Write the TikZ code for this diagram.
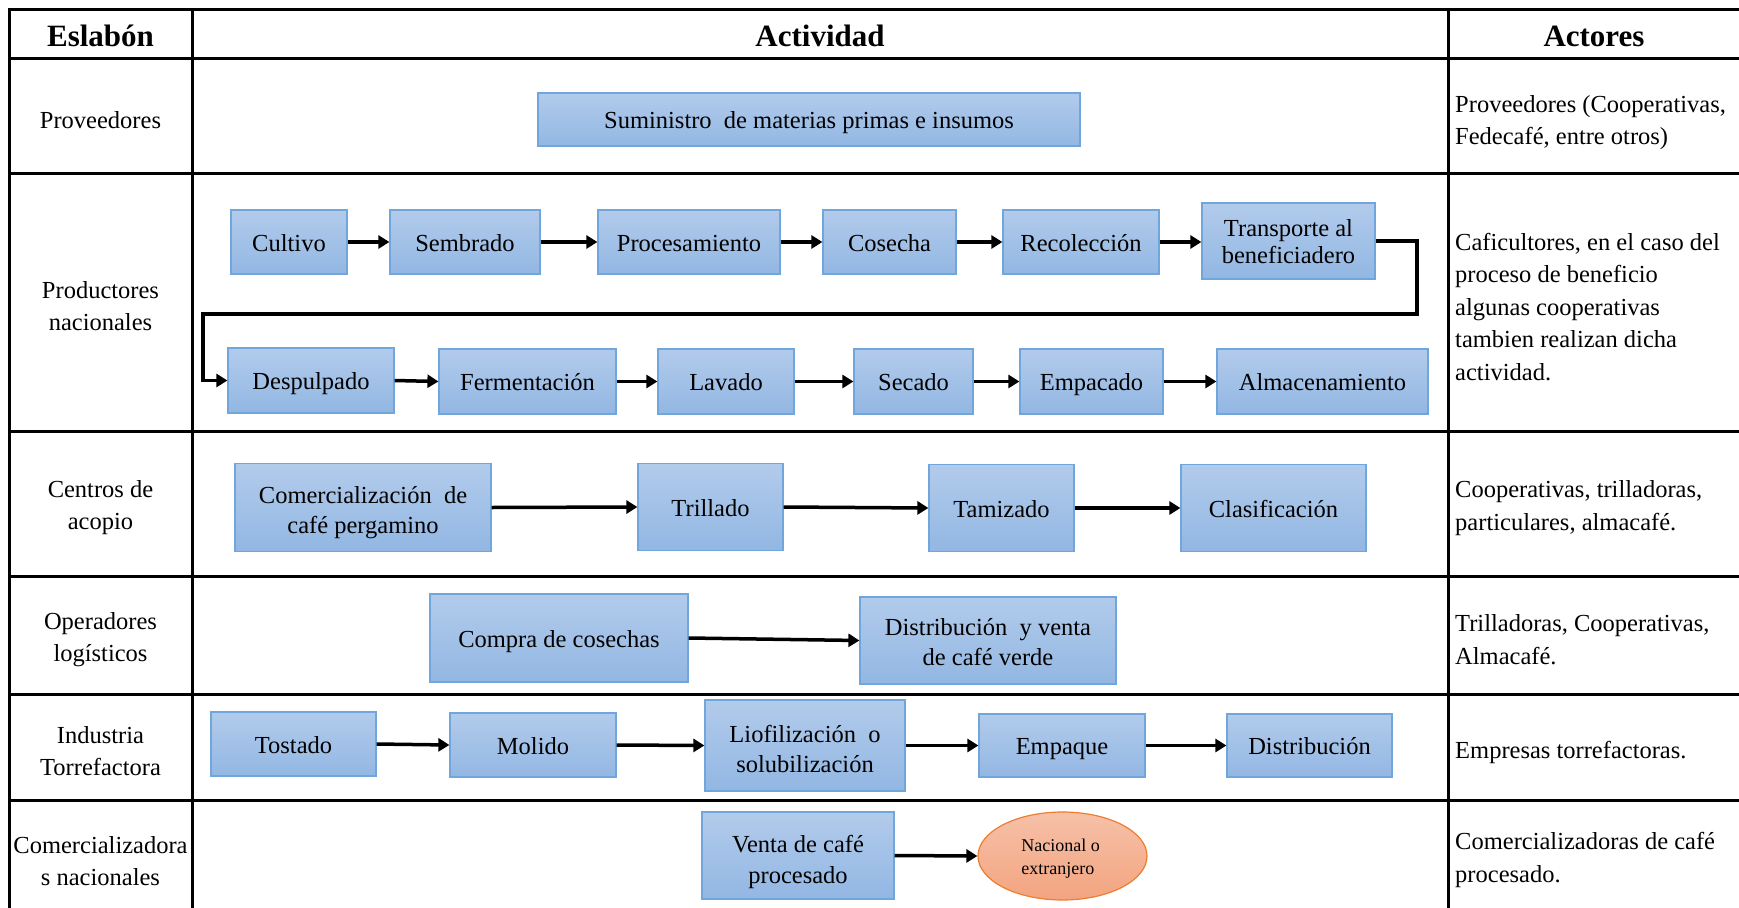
\documentclass[tikz,border=0pt]{standalone}
\usepackage{fontspec}
\setmainfont{Liberation Serif}
\usetikzlibrary{arrows.meta,shapes.geometric}

\definecolor{boxtop}{RGB}{178,203,235}
\definecolor{boxbot}{RGB}{146,183,227}
\definecolor{boxline}{RGB}{112,166,220}
\definecolor{elltop}{RGB}{246,193,168}
\definecolor{ellbot}{RGB}{243,164,128}
\definecolor{ellline}{RGB}{237,125,49}

\begin{document}
\begin{tikzpicture}[x=1pt,y=-1pt,
  rule/.style={line width=3pt, line cap=rect},
  headtext/.style={inner sep=0pt, font=\fontsize{31}{36}\selectfont\bfseries},
  celltext/.style={inner sep=0pt, align=center, font=\fontsize{24.5}{32}\selectfont},
  actortext/.style={inner sep=0pt, anchor=west, align=left, font=\fontsize{24.5}{32.5}\selectfont},
  actbox/.style={draw=boxline, line width=1.2pt, top color=boxtop, bottom color=boxbot,
    inner sep=0pt, align=center, font=\fontsize{24.5}{30}\selectfont},
  oneline/.style={text height=18pt, text depth=0pt},
  boxtext/.style={inner sep=0pt, align=center, font=\fontsize{24.5}{30}\selectfont},
  destino/.style={ellipse, draw=ellline, line width=1.2pt, top color=elltop, bottom color=ellbot,
    inner sep=0pt},
  destinotext/.style={inner sep=0pt, align=left, font=\fontsize{18}{23}\selectfont},
  arr/.style={line width=3.5pt, line join=miter, -{Triangle[length=11pt,width=13pt]}}]

\useasboundingbox (0,0) rectangle (1739,907);

% table rules
\draw[rule] (9,10) -- (1739,10);
\draw[rule] (9,59) -- (1739,59);
\draw[rule] (9,173) -- (1739,173);
\draw[rule] (9,431) -- (1739,431);
\draw[rule] (9,576) -- (1739,576);
\draw[rule] (9,694) -- (1739,694);
\draw[rule] (9,800) -- (1739,800);
\draw[rule] (9,10) -- (9,907);
\draw[rule] (192,10) -- (192,907);
\draw[rule] (1448,10) -- (1448,907);

% header
\node[headtext] (hEslabon) at (100.5,36) {Eslabón};
\node[headtext] (hActividad) at (820,36) {Actividad};
\node[headtext] (hActores) at (1594,36) {Actores};

% links of the chain
\node[celltext] (lProv) at (100.5,120) {Proveedores};
\node[celltext] (lProd) at (100.5,306) {Productores\\nacionales};
\node[celltext] (lCent) at (100.5,508) {Centros de\\acopio};
\node[celltext] (lOper) at (100.5,640) {Operadores\\logísticos};
\node[celltext] (lInd) at (100.5,751) {Industria\\Torrefactora};
\node[celltext] (lCom) at (100.5,861) {Comercializadora\\s nacionales};

% actors
\node[actortext] (aProv) at (1455,122.5) {Proveedores (Cooperativas,\\Fedecafé, entre otros)};
\node[actortext] (aProd) at (1455,307) {Caficultores, en el caso del\\proceso de beneficio\\algunas cooperativas\\tambien realizan dicha\\actividad.};
\node[actortext] (aCent) at (1455,508) {Cooperativas, trilladoras,\\particulares, almacafé.};
\node[actortext] (aOper) at (1455,639.5) {Trilladoras, Cooperativas,\\Almacafé.};
\node[actortext] (aInd) at (1455,752) {Empresas torrefactoras.};
\node[actortext] (aCom) at (1455,860) {Comercializadoras de café\\procesado.};

% Proveedores
\node[actbox, oneline, minimum width=542pt, minimum height=53pt] (sumi) at (809,119.5) {Suministro\ \ de materias primas e insumos};

% Productores nacionales, first row
\node[actbox, oneline, minimum width=116pt, minimum height=64pt] (cult) at (289,242) {Cultivo};
\node[actbox, oneline, minimum width=150pt, minimum height=64pt] (semb) at (465,242) {Sembrado};
\node[actbox, oneline, minimum width=182pt, minimum height=64pt] (proc) at (689,242) {Procesamiento};
\node[actbox, oneline, minimum width=133pt, minimum height=64pt] (cose) at (889.5,242) {Cosecha};
\node[actbox, oneline, minimum width=156pt, minimum height=64pt] (reco) at (1081,242) {Recolección};
\node[actbox, minimum width=173pt, minimum height=76pt] (trans) at (1288.5,241) {};
\node[boxtext, font=\fontsize{24.5}{27}\selectfont] (transT) at ([yshift=-1pt]trans.center) {Transporte al\\beneficiadero};

% Productores nacionales, second row
\node[actbox, oneline, minimum width=166pt, minimum height=65pt] (desp) at (311,380.5) {Despulpado};
\node[actbox, oneline, minimum width=177pt, minimum height=65pt] (ferm) at (527.5,381.5) {Fermentación};
\node[actbox, oneline, minimum width=136pt, minimum height=65pt] (lava) at (726,381.5) {Lavado};
\node[actbox, oneline, minimum width=119pt, minimum height=65pt] (seca) at (913.5,381.5) {Secado};
\node[actbox, oneline, minimum width=143pt, minimum height=65pt] (empc) at (1091.5,381.5) {Empacado};
\node[actbox, oneline, minimum width=211pt, minimum height=65pt] (alma) at (1322.5,381.5) {Almacenamiento};

% Centros de acopio
\node[actbox, minimum width=256pt, minimum height=88pt] (comp) at (363,507.5) {};
\node[boxtext] (compT) at ([yshift=-5.5pt]comp.center) {Comercialización\ \ de\\café pergamino};
\node[actbox, oneline, minimum width=145pt, minimum height=87pt] (tril) at (710.5,507) {Trillado};
\node[actbox, oneline, minimum width=145pt, minimum height=87pt] (tami) at (1001.5,508) {Tamizado};
\node[actbox, oneline, minimum width=185pt, minimum height=87pt] (clas) at (1273.5,508) {Clasificación};

% Operadores logisticos
\node[actbox, oneline, minimum width=258pt, minimum height=88pt] (compra) at (559,638) {Compra de cosechas};
\node[actbox, minimum width=256pt, minimum height=87pt] (dist) at (988,640.5) {};
\node[boxtext] (distT) at ([yshift=-2pt]dist.center) {Distribución\ \ y venta\\de café verde};

% Industria torrefactora
\node[actbox, oneline, minimum width=165pt, minimum height=64pt] (tost) at (293.5,744) {Tostado};
\node[actbox, oneline, minimum width=166pt, minimum height=64pt] (moli) at (533,745) {Molido};
\node[actbox, minimum width=200pt, minimum height=91pt] (liof) at (805,745.5) {};
\node[boxtext] (liofT) at ([yshift=-3pt]liof.center) {Liofilización\ \ o\\solubilización};
\node[actbox, oneline, minimum width=166pt, minimum height=63pt] (empq) at (1062,745.5) {Empaque};
\node[actbox, oneline, minimum width=165pt, minimum height=63pt] (distr) at (1309.5,745.5) {Distribución};

% Comercializadoras
\node[actbox, minimum width=192pt, minimum height=87pt] (venta) at (798,855.5) {};
\node[boxtext, font=\fontsize{24.5}{31}\selectfont] (ventaT) at ([yshift=-6pt]venta.center) {Venta de café\\procesado};
\node[destino, minimum width=169pt, minimum height=88pt] (dest) at (1062.5,856) {};
\node[destinotext] (destT) at ([xshift=-2pt,yshift=-3pt]dest.center) {Nacional o\\extranjero};

% connectors
\draw[arr] (cult.east) -- (semb.west);
\draw[arr] (semb.east) -- (proc.west);
\draw[arr] (proc.east) -- (cose.west);
\draw[arr] (cose.east) -- (reco.west);
\draw[arr] (reco.east) -- (trans.west |- reco.east);
\coordinate (turnR) at (1417,314);
\coordinate (turnL) at (203,314);
\draw[arr] (trans.east) -| (turnR) -- (turnL) |- (desp.west);
\draw[arr] (desp.east) -- (ferm.west);
\draw[arr] (ferm.east) -- (lava.west);
\draw[arr] (lava.east) -- (seca.west);
\draw[arr] (seca.east) -- (empc.west);
\draw[arr] (empc.east) -- (alma.west);

\draw[arr] (comp.east) -- (tril.west);
\draw[arr] (tril.east) -- (tami.west);
\draw[arr] (tami.east) -- (clas.west);

\draw[arr] (compra.east) -- (dist.west);

\draw[arr] (tost.east) -- (moli.west);
\draw[arr] (moli.east) -- (liof.west);
\draw[arr] (liof.east) -- (empq.west);
\draw[arr] (empq.east) -- (distr.west);

\draw[arr] (venta.east) -- (dest.west);
\end{tikzpicture}
\end{document}
